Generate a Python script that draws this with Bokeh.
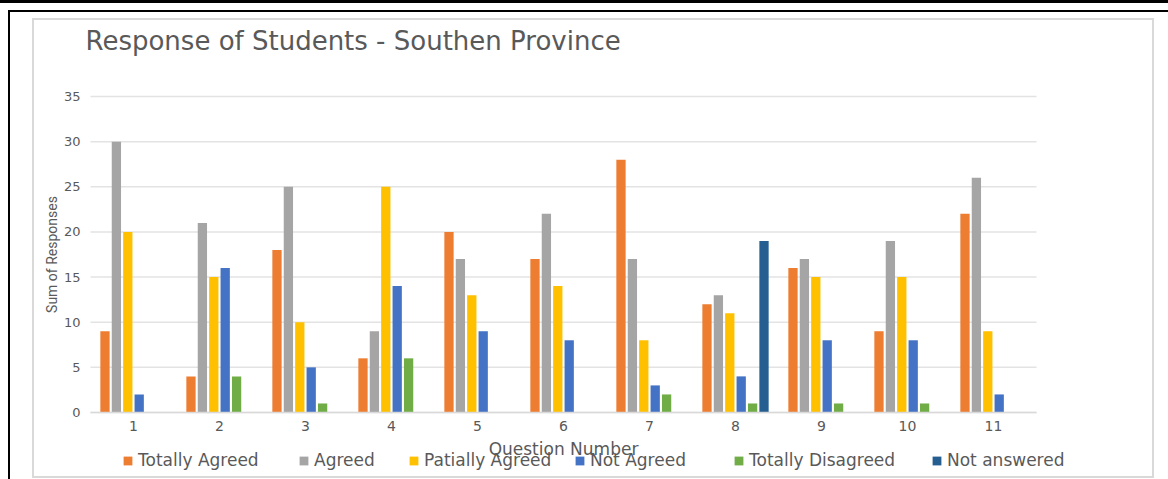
from math import pi
from bokeh.plotting import figure
from bokeh.models import (Range1d, Legend, LegendItem, Label,
                          ColumnDataSource, FixedTicker, InlineStyleSheet)
from bokeh.transform import dodge
from bokeh.embed import file_html
from bokeh.resources import INLINE

# ---- data ----
questions = ["1", "2", "3", "4", "5", "6", "7", "8", "9", "10", "11"]
totally_agreed = [9, 4, 18, 6, 20, 17, 28, 12, 16, 9, 22]
agreed = [30, 21, 25, 9, 17, 22, 17, 13, 17, 19, 26]
patially_agreed = [20, 15, 10, 25, 13, 14, 8, 11, 15, 15, 9]
not_agreed = [2, 16, 5, 14, 9, 8, 3, 4, 8, 8, 2]
totally_disagreed = [0, 4, 1, 6, 0, 0, 2, 1, 1, 1, 0]
not_answered = [0, 0, 0, 0, 0, 0, 0, 19, 0, 0, 0]
series_names = ["Totally Agreed", "Agreed", "Patially Agreed", "Not Agreed",
                "Totally Disagreed", "Not answered"]
series_colors = ["#ED7D31", "#A5A5A5", "#FFC000", "#4472C4", "#70AD47", "#255E91"]
y_ticks = [0, 5, 10, 15, 20, 25, 30, 35]

# ---- layout constants (canvas pixels) ----
W, H = 1168, 479
PLOT_L, CAT_W = 90.0, 86.0        # left edge of category band, width per category
Y0_PX, YTOP_PX = 412.0, 96.0      # pixel rows of value 0 and value 35
ppu = (Y0_PX - YTOP_PX) / 35.0

x_pos = list(range(1, len(questions) + 1))
x_start = 0.5 - PLOT_L / CAT_W
x_end = x_start + W / CAT_W
y_start = -(H - Y0_PX) / ppu
y_end = 35 + YTOP_PX / ppu

src = ColumnDataSource(dict(x=x_pos, s0=totally_agreed, s1=agreed, s2=patially_agreed,
                            s3=not_agreed, s4=totally_disagreed, s5=not_answered))

p = figure(width=W, height=H, x_range=Range1d(x_start, x_end),
           y_range=Range1d(y_start, y_end), output_backend="svg",
           toolbar_location=None, title=None,
           min_border_left=0, min_border_right=0, min_border_top=0, min_border_bottom=0)
p.outline_line_color = None
p.background_fill_color = "white"
p.border_fill_color = "white"
p.xgrid.visible = False
p.ygrid.visible = False

# horizontal gridlines at the y ticks, across the category band
p.segment(x0=0.5, x1=len(questions) + 0.5, y0=y_ticks, y1=y_ticks,
          line_color="#E3E3E3", line_width=1.5)

pitch, bw = 0.1326, 0.108
items = []
for i, (name, col) in enumerate(zip(series_names, series_colors)):
    r = p.vbar(x=dodge("x", (i - 2.5) * pitch), top="s%d" % i, bottom=0,
               width=bw, source=src, fill_color=col, line_color=None)
    items.append(LegendItem(label=name, renderers=[r]))

# axes placed inside the frame at fixed data locations
p.yaxis.fixed_location = 0.5
p.yaxis.bounds = (0, 35)
p.yaxis.ticker = FixedTicker(ticks=y_ticks)
p.yaxis.axis_line_color = None
p.yaxis.major_tick_line_color = None
p.yaxis.minor_tick_line_color = None
p.yaxis.major_tick_out = 0
p.yaxis.major_tick_in = 0
p.yaxis.major_label_standoff = 10
p.yaxis.major_label_text_font = "DejaVu Sans"
p.yaxis.major_label_text_font_size = "13px"
p.yaxis.major_label_text_color = "#595959"

p.xaxis.fixed_location = 0
p.xaxis.bounds = (0.5, len(questions) + 0.5)
p.xaxis.ticker = FixedTicker(ticks=x_pos)
p.xaxis.major_label_overrides = {x: q for x, q in zip(x_pos, questions)}
p.xaxis.axis_line_color = "#D9D9D9"
p.xaxis.axis_line_width = 1.5
p.xaxis.major_tick_line_color = None
p.xaxis.minor_tick_line_color = None
p.xaxis.major_tick_out = 0
p.xaxis.major_tick_in = 0
p.xaxis.major_label_standoff = 8
p.xaxis.major_label_text_font = "DejaVu Sans"
p.xaxis.major_label_text_font_size = "14px"
p.xaxis.major_label_text_color = "#595959"


def lab(cx, cy, text, size, font="DejaVu Sans", align="left", angle=0):
    return Label(x=cx, y=H - cy, x_units="screen", y_units="screen", text=text,
                 text_font=font, text_font_size=size, text_color="#595959",
                 text_align=align, text_baseline="middle", angle=angle)


p.add_layout(lab(85, 40, "Response of Students - Southen Province", "26px"))
p.add_layout(lab(51, 254, "Sum of Responses", "14px", font="Roboto", align="center",
                 angle=pi / 2))
p.add_layout(lab(563, 448, "Question Number", "17px", align="center"))

legend_x = [122, 298, 408, 574, 733, 931]
for item, lx in zip(items, legend_x):
    lg = Legend(items=[item], location=(lx, 9), orientation="horizontal",
                glyph_width=11, glyph_height=11, label_standoff=5,
                padding=0, margin=0, border_line_color=None, background_fill_alpha=0,
                label_text_font="DejaVu Sans", label_text_font_size="17px",
                label_text_color="#595959", label_height=16)
    p.add_layout(lg)

css = """
:host::after {
  content: "";
  position: absolute; left: 0; top: 0; width: 1168px; height: 479px;
  pointer-events: none;
  background:
    linear-gradient(#000,#000) 0 0 / 1168px 3px no-repeat,
    linear-gradient(#000,#000) 8px 10px / 1160px 2px no-repeat,
    linear-gradient(#000,#000) 8px 10px / 2px 469px no-repeat,
    linear-gradient(#d9d9d9,#d9d9d9) 32px 18px / 1122px 2px no-repeat,
    linear-gradient(#d9d9d9,#d9d9d9) 32px 476px / 1122px 2px no-repeat,
    linear-gradient(#d9d9d9,#d9d9d9) 32px 18px / 2px 459px no-repeat,
    linear-gradient(#d9d9d9,#d9d9d9) 1152px 18px / 2px 459px no-repeat;
}
"""
p.stylesheets = [InlineStyleSheet(css=css)]

open("out.html", "w").write(file_html(p, INLINE))
